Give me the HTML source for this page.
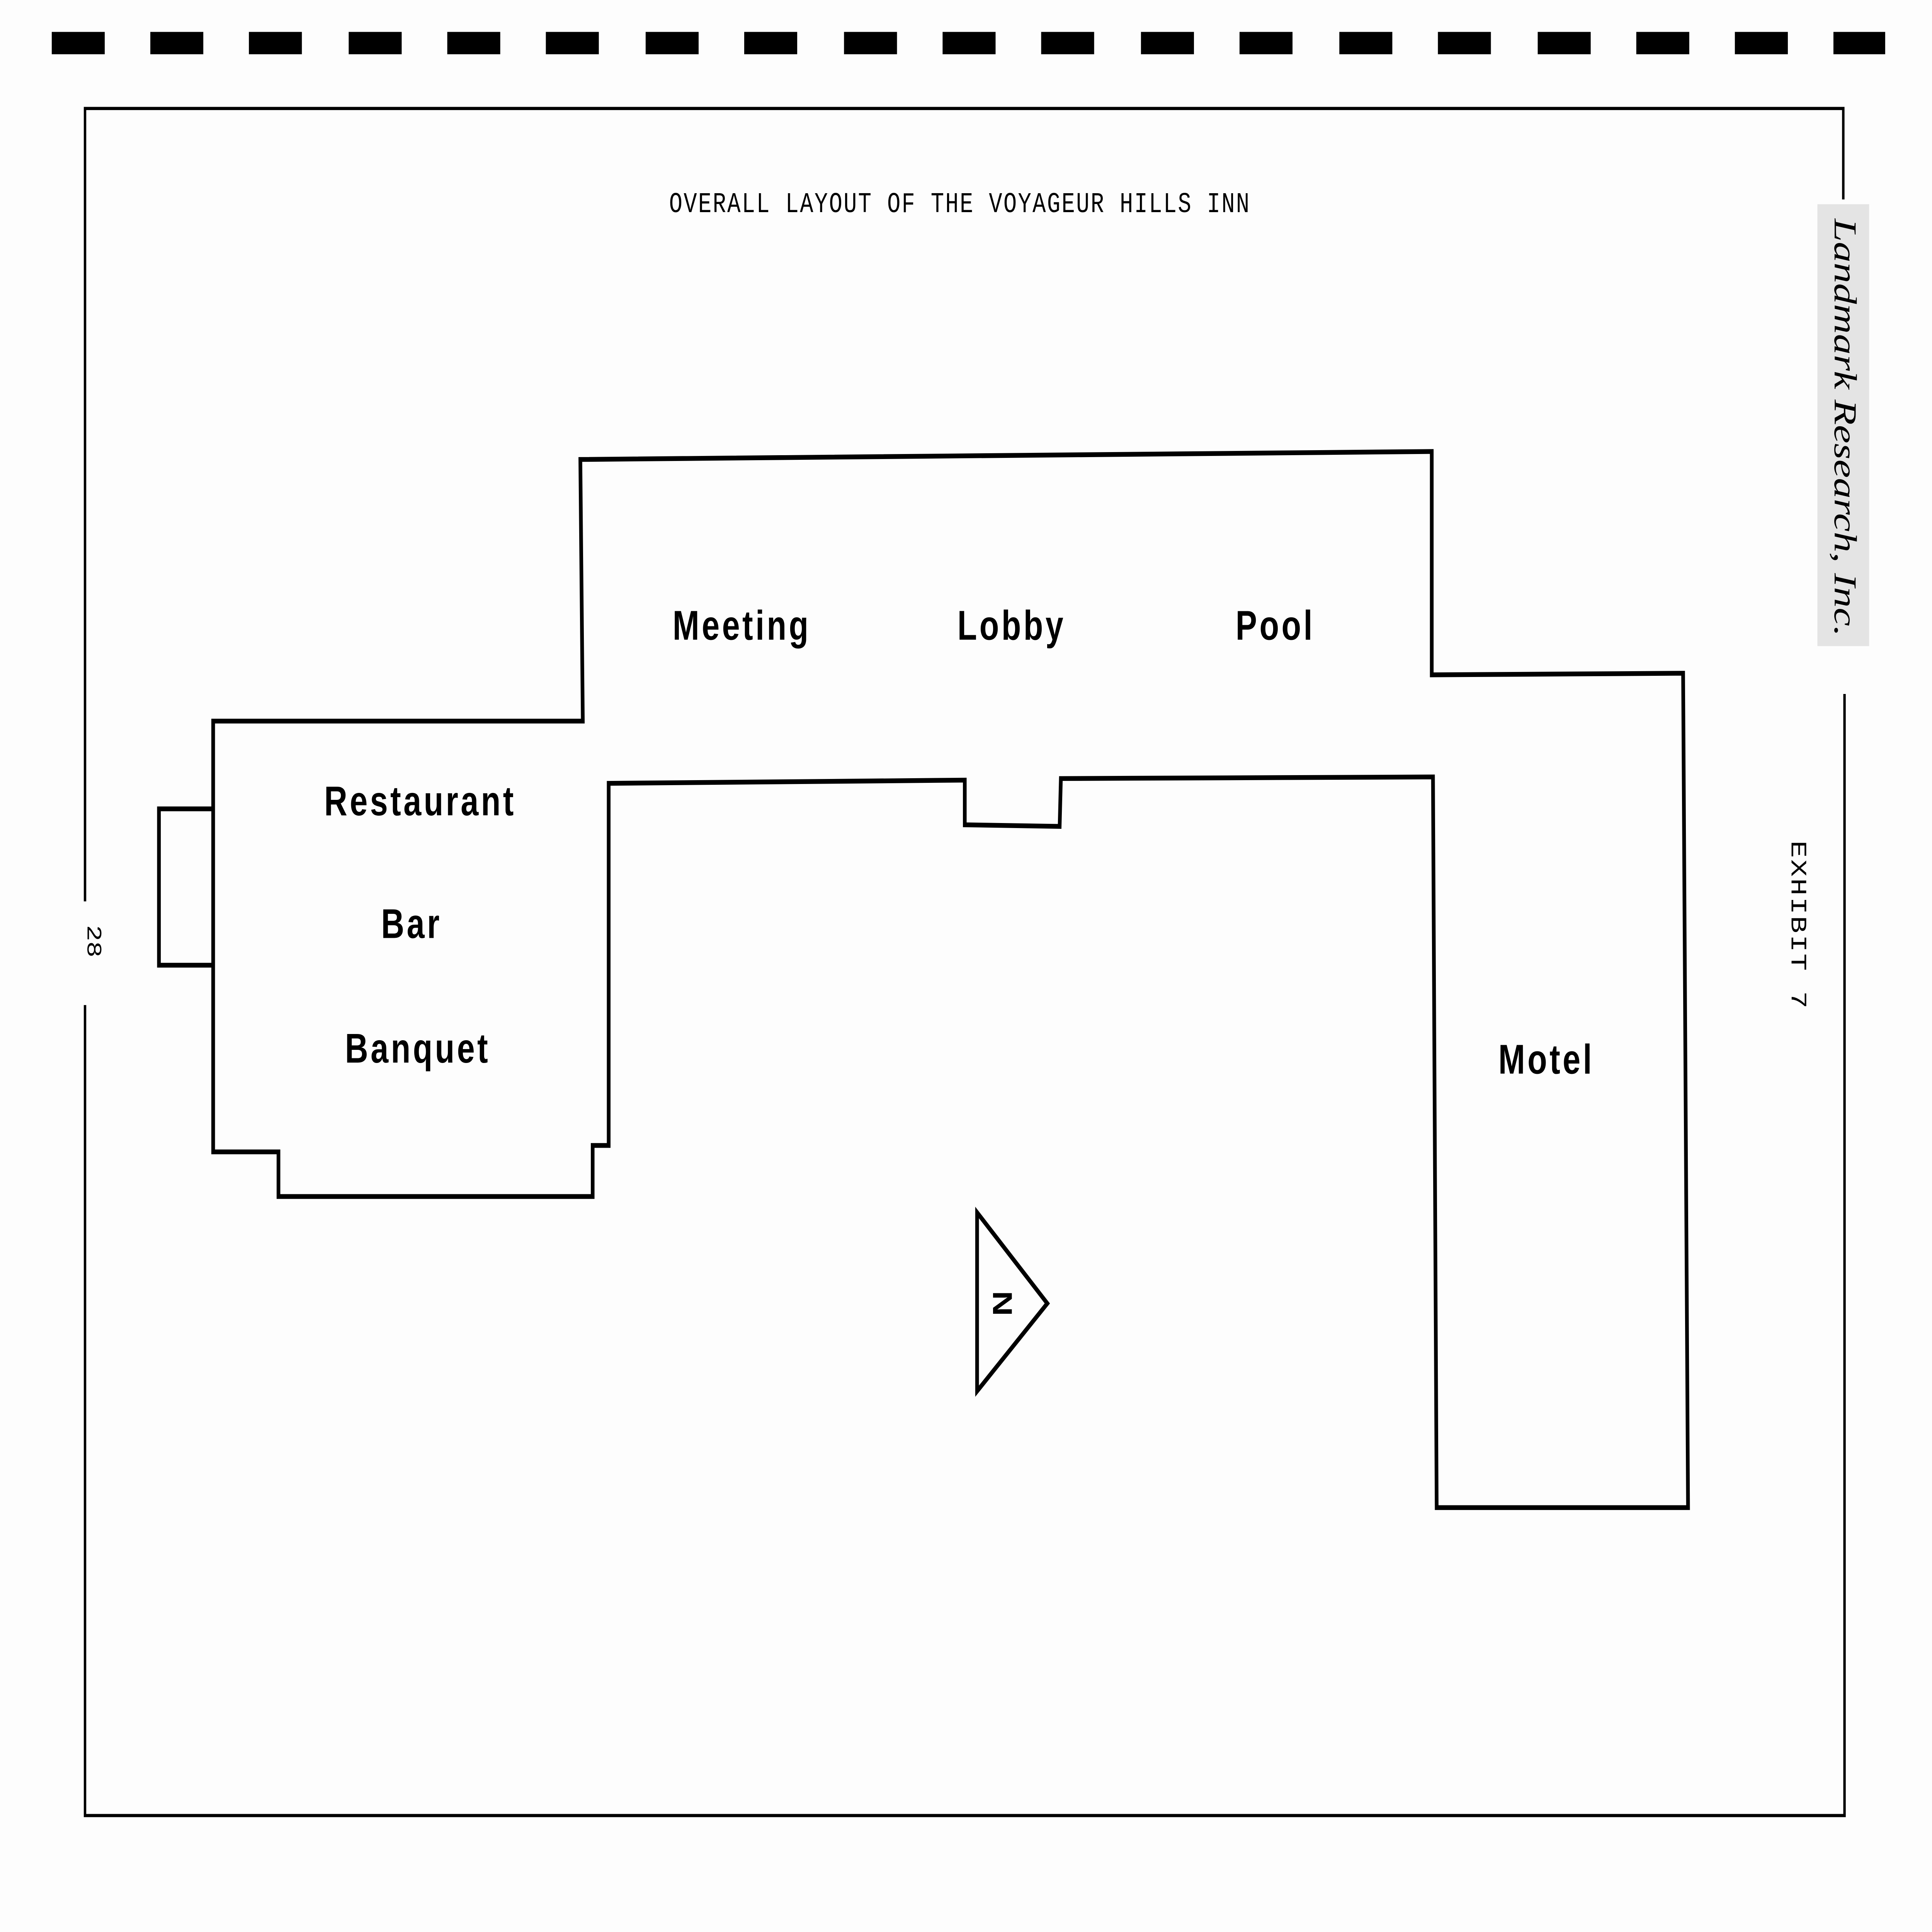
<!DOCTYPE html>
<html><head><meta charset="utf-8"><style>
html,body{margin:0;padding:0;background:#fdfdfd;width:100%;height:100%;overflow:hidden;}
svg{display:block;position:fixed;left:0;top:0;width:100vw;height:100vh;}
</style></head><body>
<svg viewBox="0 0 1568 1211" preserveAspectRatio="none" xmlns="http://www.w3.org/2000/svg">
<rect width="1568" height="1211" fill="#fdfdfd"/>
<g fill="#000">
<rect x="42" y="20" width="43" height="14"/><rect x="122" y="20" width="43" height="14"/>
<rect x="202" y="20" width="43" height="14"/><rect x="283" y="20" width="43" height="14"/>
<rect x="363" y="20" width="43" height="14"/><rect x="443" y="20" width="43" height="14"/>
<rect x="524" y="20" width="43" height="14"/><rect x="604" y="20" width="43" height="14"/>
<rect x="685" y="20" width="43" height="14"/><rect x="765" y="20" width="43" height="14"/>
<rect x="845" y="20" width="43" height="14"/><rect x="926" y="20" width="43" height="14"/>
<rect x="1006" y="20" width="43" height="14"/><rect x="1087" y="20" width="43" height="14"/>
<rect x="1167" y="20" width="43" height="14"/><rect x="1248" y="20" width="43" height="14"/>
<rect x="1328" y="20" width="43" height="14"/><rect x="1408" y="20" width="43" height="14"/>
<rect x="1488" y="20" width="42" height="14"/>
</g>
<g stroke="#000" stroke-width="2" fill="none">
<path d="M69,565 L69,68 L1496,68 L1496,125"/>
<path d="M1497,435 L1497,1138 L69,1138 L69,630"/>
</g>
<text x="779" y="133" text-anchor="middle" font-family="Liberation Mono, monospace" font-size="18" letter-spacing="1">OVERALL LAYOUT OF THE VOYAGEUR HILLS INN</text>
<g stroke="#000" stroke-width="3" fill="none" stroke-linejoin="miter">
<path d="M471,288 L1162,283 L1162,423 L1366,422 L1370,945 L1166,945 L1163,487 L861,488 L860,518 L783,517 L783,489 L494,491 L494,718 L481,718 L481,750 L226,750 L226,722 L173,722 L173,452 L473,452 Z"/>
<path d="M173,507 L129,507 L129,605 L173,605"/>
<path d="M793,760 L850,817 L793,872 Z"/>
</g>
<g font-family="Liberation Sans, sans-serif" font-weight="bold" font-size="26" text-anchor="middle" letter-spacing="2">
<text x="602" y="401">Meeting</text>
<text x="821" y="401">Lobby</text>
<text x="1035" y="401">Pool</text>
<text x="341" y="511">Restaurant</text>
<text x="334" y="588">Bar</text>
<text x="339" y="666">Banquet</text>
<text x="1255" y="673">Motel</text>
</g>
<text x="0" y="0" transform="translate(806,817) rotate(90)" text-anchor="middle" font-family="Liberation Sans, sans-serif" font-weight="bold" font-size="22">N</text>
<text x="0" y="0" transform="translate(71,590) rotate(90)" text-anchor="middle" font-family="Liberation Mono, monospace" font-size="17">28</text>
<text x="0" y="0" transform="translate(1454,580) rotate(90)" text-anchor="middle" font-family="Liberation Mono, monospace" font-size="18" letter-spacing="1">EXHIBIT 7</text>
<rect x="1475" y="128" width="42" height="277" fill="#e4e4e4"/>
<text x="0" y="0" transform="translate(1489,268) rotate(90)" text-anchor="middle" font-family="Liberation Serif, serif" font-style="italic" font-size="26">Landmark Research, Inc.</text>
</svg>
</body></html>
